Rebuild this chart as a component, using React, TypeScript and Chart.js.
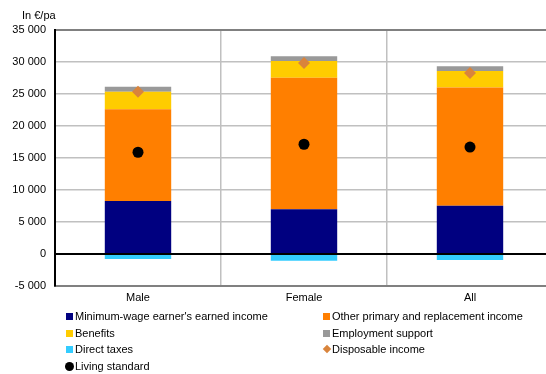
import React, { useEffect, useRef } from "react";
import { Chart, registerables } from "chart.js";

Chart.register(...registerables);

const categories = ["Male", "Female", "All"];
const earnedIncome = [8300, 7000, 7550];
const otherIncome = [14300, 20550, 18450];
const benefits = [2750, 2600, 2600];
const employmentSupport = [800, 750, 750];
const directTaxes = [-800, -1050, -950];
const disposableIncome = [25350, 29850, 28300];
const livingStandard = [15900, 17150, 16700];

const yMin = -5000;
const yMax = 35000;
const yStep = 5000;

const FONT = "'Liberation Sans', Arial, sans-serif";

const COLORS = {
  earned: "#000080",
  other: "#FF7F00",
  benefits: "#FFCC00",
  employment: "#999999",
  taxes: "#33CCFF",
  disposable: "#D9843C",
  living: "#000000",
};

const legendItems = [
  { label: "Minimum-wage earner's earned income", color: COLORS.earned, shape: "square", col: 0, row: 0 },
  { label: "Other primary and replacement income", color: COLORS.other, shape: "square", col: 1, row: 0 },
  { label: "Benefits", color: COLORS.benefits, shape: "square", col: 0, row: 1 },
  { label: "Employment support", color: COLORS.employment, shape: "square", col: 1, row: 1 },
  { label: "Direct taxes", color: COLORS.taxes, shape: "square", col: 0, row: 2 },
  { label: "Disposable income", color: COLORS.disposable, shape: "diamond", col: 1, row: 2 },
  { label: "Living standard", color: COLORS.living, shape: "circle", col: 0, row: 3 },
];

function fmt(v: number): string {
  const s = Math.abs(v).toString();
  const withSep = s.length > 3 ? s.slice(0, s.length - 3) + " " + s.slice(s.length - 3) : s;
  return (v < 0 ? "-" : "") + withSep;
}

export default function App() {
  const ref = useRef<HTMLCanvasElement | null>(null);

  useEffect(() => {
    if (!ref.current) return;
    const chart = new Chart(ref.current, {
      type: "bar",
      data: {
        labels: categories,
        datasets: [
          { type: "line", label: "Disposable income", data: disposableIncome, stack: "d", showLine: false,
            pointStyle: "rectRot", pointRadius: 6, pointBackgroundColor: COLORS.disposable,
            pointBorderColor: COLORS.disposable, pointBorderWidth: 0, order: 0 } as any,
          { type: "line", label: "Living standard", data: livingStandard, stack: "l", showLine: false,
            pointStyle: "circle", pointRadius: 5.5, pointBackgroundColor: COLORS.living,
            pointBorderColor: COLORS.living, pointBorderWidth: 0, order: 0 } as any,
          { label: "Minimum-wage earner's earned income", data: earnedIncome, backgroundColor: COLORS.earned, stack: "b", order: 1 },
          { label: "Other primary and replacement income", data: otherIncome, backgroundColor: COLORS.other, stack: "b", order: 1 },
          { label: "Benefits", data: benefits, backgroundColor: COLORS.benefits, stack: "b", order: 1 },
          { label: "Employment support", data: employmentSupport, backgroundColor: COLORS.employment, stack: "b", order: 1 },
          { label: "Direct taxes", data: directTaxes, backgroundColor: COLORS.taxes, stack: "b", order: 1 },
        ],
      },
      options: {
        responsive: false,
        animation: false,
        layout: { padding: { top: 30, left: 0, right: 0, bottom: 0 } },
        datasets: { bar: { barPercentage: 0.4, categoryPercentage: 1, borderWidth: 0 } } as any,
        plugins: { legend: { display: false }, tooltip: { enabled: false }, title: { display: false } },
        scales: {
          x: {
            stacked: true,
            grid: { color: "#c0c0c0", lineWidth: 1.5, offset: true, drawTicks: false },
            border: { color: "#808080", width: 2 },
            ticks: { color: "#000", font: { family: FONT, size: 11 }, padding: 5 },
            afterFit: (s: any) => { s.height = 88; },
          },
          y: {
            stacked: true,
            min: yMin,
            max: yMax,
            grid: {
              drawTicks: false,
              color: (c: any) => (c.tick.value === 0 ? "#000000" : c.tick.value === yMax || c.tick.value === yMin ? "#808080" : "#c0c0c0"),
              lineWidth: (c: any) => (c.tick.value === 0 || c.tick.value === yMax ? 2 : 1.5),
            },
            border: { color: "#000", width: 2 },
            ticks: { stepSize: yStep, color: "#000", font: { family: FONT, size: 11 }, padding: 9, callback: (v: any) => fmt(Number(v)) },
            afterFit: (s: any) => { s.width = 55; },
          },
        },
      },
    });
    return () => chart.destroy();
  }, []);

  const colX = [66, 323];
  const textX = [75, 332];
  const rowY = [316, 333, 349, 366];

  return (
    <div style={{ position: "fixed", left: 0, top: 0, width: 546, height: 374, overflow: "hidden", background: "#fff", fontFamily: FONT }}>
      <div style={{ position: "absolute", left: 0, top: 0, width: 559, height: 374 }}>
        <canvas ref={ref} width={559} height={374} style={{ display: "block", width: 559, height: 374 }} />
      </div>
      <div style={{ position: "absolute", left: 22, top: 8, fontSize: 11, color: "#000", whiteSpace: "nowrap", lineHeight: "14px" }}>In €/pa</div>
      {legendItems.map((it, i) => {
        const cy = rowY[it.row];
        let marker: React.ReactNode;
        if (it.shape === "square") {
          marker = <div style={{ position: "absolute", left: colX[it.col], top: cy - 3.5, width: 7, height: 7, background: it.color }} />;
        } else if (it.shape === "diamond") {
          marker = <div style={{ position: "absolute", left: colX[it.col] + 0.5, top: cy - 3, width: 6, height: 6, background: it.color, transform: "rotate(45deg)" }} />;
        } else {
          marker = <div style={{ position: "absolute", left: colX[it.col] - 1, top: cy - 4.5, width: 9, height: 9, borderRadius: "50%", background: it.color }} />;
        }
        return (
          <React.Fragment key={i}>
            {marker}
            <div style={{ position: "absolute", left: textX[it.col], top: cy - 7, fontSize: 11, lineHeight: "14px", color: "#000", whiteSpace: "nowrap" }}>{it.label}</div>
          </React.Fragment>
        );
      })}
    </div>
  );
}
